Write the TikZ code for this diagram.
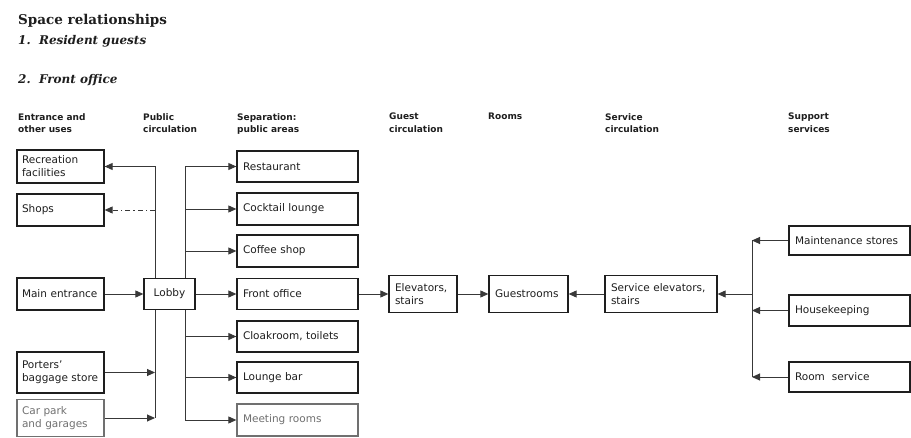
\documentclass[tikz,border=0pt]{standalone}
\usepackage{fontspec}
\usepackage{tikz}
\usetikzlibrary{arrows.meta}
\setmainfont{DejaVu Sans}
\newfontfamily\serifface{DejaVu Serif}
\definecolor{ink}{HTML}{1E1E1E}
\definecolor{wire}{HTML}{383838}
\definecolor{faded}{HTML}{707070}

\begin{document}
\begin{tikzpicture}[
  x=1pt,
  y=-1pt,
  space/.style={
    draw=ink,line width=1.3pt,text=ink,align=left,
    inner xsep=6pt,inner ysep=0pt,font=\fontsize{10.5}{13}\selectfont
  },
  usebox/.style={space,inner xsep=5pt,text width=77pt},
  areabox/.style={space,text width=109pt},
  faded/.style={draw=faded,text=faded},
  wire/.style={draw=wire,line width=0.9pt},
  flow/.style={wire,-{Triangle[length=8pt,width=7pt]}},
  maybeflow/.style={flow,dash pattern=on 5pt off 3pt on 1.5pt off 3pt},
  titletext/.style={
    anchor=base west,inner sep=0pt,text=ink,
    font=\serifface\bfseries\fontsize{13.5}{16}\selectfont
  },
  subtitle/.style={
    anchor=base west,inner sep=0pt,text=ink,
    font=\serifface\bfseries\itshape\fontsize{12}{14}\selectfont
  },
  colhead/.style={
    anchor=north west,inner sep=0pt,align=left,text=ink,
    font=\bfseries\fontsize{9}{12.5}\selectfont
  }
]
  \path[use as bounding box,fill=white] (0,0) rectangle (911,438);

  \node[titletext] (title) at (18,25) {Space relationships};
  \node[subtitle] (sub-one) at (18,45) {1.\ \ Resident guests};
  \node[subtitle] (sub-two) at (18,84) {2.\ \ Front office};

  \node[colhead] (h-entrance) at (18,113) {Entrance and\\other uses};
  \node[colhead] (h-public) at (143,113) {Public\\circulation};
  \node[colhead] (h-separation) at (237,113) {Separation:\\public areas};
  \node[colhead] (h-guest) at (389,113) {Guest\\circulation};
  \node[colhead] (h-rooms) at (488,113) {Rooms};
  \node[colhead] (h-service) at (605,113) {Service\\circulation};
  \node[colhead] (h-support) at (788,113) {Support\\services};

  \node[usebox,minimum height=33pt] (rec) at (60.5,166.5) {Recreation\\facilities};
  \node[usebox,minimum height=32pt] (shops) at (60.5,210) {Shops};
  \node[usebox,minimum height=32pt] (main) at (60.5,294) {Main entrance};
  \node[usebox,minimum height=41pt] (porters) at (60.5,372.5) {Porters'\\baggage store};
  \node[usebox,faded,minimum height=37pt] (carpark) at (60.5,418) {Car park\\and garages};

  \node[space,align=center,minimum width=51pt,minimum height=31pt] (lobby) at (169.5,294) {Lobby};

  \node[areabox,minimum height=31pt] (rest) at (297.5,166.5) {Restaurant};
  \node[areabox,minimum height=32pt] (cock) at (297.5,209) {Cocktail lounge};
  \node[areabox,minimum height=32pt] (coffee) at (297.5,251) {Coffee shop};
  \node[areabox,minimum height=31pt] (front) at (297.5,294) {Front office};
  \node[areabox,minimum height=31pt] (cloak) at (297.5,336.5) {Cloakroom, toilets};
  \node[areabox,minimum height=31pt] (lounge) at (297.5,377.5) {Lounge bar};
  \node[areabox,faded,minimum height=32pt] (meet) at (297.5,420) {Meeting rooms};

  \node[space,text width=56pt,minimum height=37pt] (elev) at (423,294) {Elevators,\\stairs};
  \node[space,text width=67pt,minimum height=37pt] (guest) at (528.5,294) {Guestrooms};
  \node[space,text width=100pt,minimum height=37pt] (svc) at (661,294) {Service elevators,\\stairs};

  \node[areabox,minimum height=29pt] (maint) at (849.5,240.5) {Maintenance stores};
  \node[areabox,minimum height=31pt] (house) at (849.5,310.5) {Housekeeping};
  \node[areabox,minimum height=30pt] (roomsvc) at (849.5,377) {Room\ \ service};

  \coordinate (lspine) at (155,0);
  \coordinate (rspine) at (185,0);
  \coordinate (sspine) at (752,0);
  \coordinate (l-shops) at (lspine |- shops.east);
  \coordinate (l-porters) at (lspine |- porters.east);
  \coordinate (l-car) at (lspine |- carpark.east);
  \coordinate (r-cock) at (rspine |- cock.west);
  \coordinate (r-coffee) at (rspine |- coffee.west);
  \coordinate (r-cloak) at (rspine |- cloak.west);
  \coordinate (r-lounge) at (rspine |- lounge.west);
  \coordinate (s-maint) at (sspine |- maint.west);
  \coordinate (s-house) at (sspine |- house.west);
  \coordinate (s-room) at (sspine |- roomsvc.west);
  \coordinate (s-svc) at (sspine |- svc.east);

  \draw[flow] (lobby.north -| lspine) |- (rec.east);
  \draw[maybeflow] (l-shops) -- (shops.east);
  \draw[wire] (lobby.south -| lspine) -- (l-car);
  \draw[flow] (porters.east) -- (l-porters);
  \draw[flow] (carpark.east) -- (l-car);
  \draw[flow] (main) -- (lobby);

  \draw[flow] (lobby.north -| rspine) |- (rest.west);
  \draw[flow] (lobby.south -| rspine) |- (meet.west);
  \draw[flow] (r-cock) -- (cock);
  \draw[flow] (r-coffee) -- (coffee);
  \draw[flow] (r-cloak) -- (cloak);
  \draw[flow] (r-lounge) -- (lounge);
  \draw[flow] (lobby) -- (front);

  \draw[flow] (front) -- (elev);
  \draw[flow] (elev) -- (guest);
  \draw[flow] (svc) -- (guest);

  \draw[wire] (s-maint) -- (s-room);
  \draw[flow] (maint) -- (s-maint);
  \draw[flow] (house) -- (s-house);
  \draw[flow] (roomsvc) -- (s-room);
  \draw[flow] (s-svc) -- (svc);
\end{tikzpicture}
\end{document}
